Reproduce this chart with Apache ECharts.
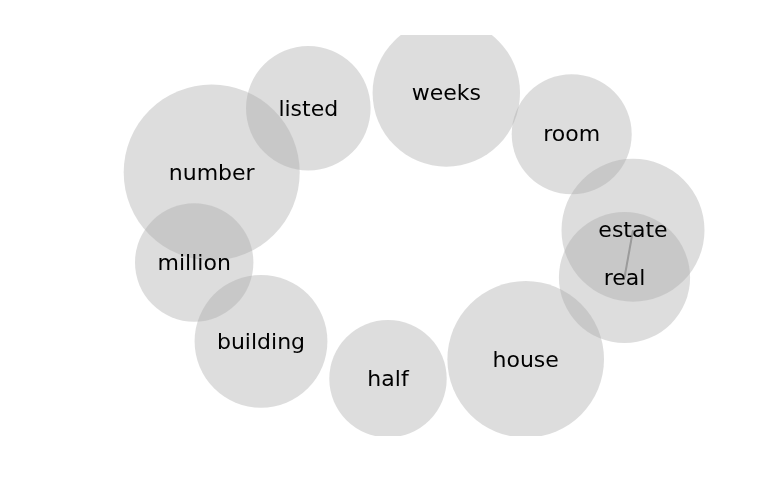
<!DOCTYPE html>
<html>
<head>
<meta charset="utf-8">
<script src="https://cdn.jsdelivr.net/npm/echarts@6/dist/echarts.min.js"></script>
<style>html,body{margin:0;padding:0;background:#fff;}#c{width:768px;height:500px;}</style>
</head>
<body>
<div id="c"></div>
<script>
// Node names, positions (chart units) and radii
const names = ['number','listed','weeks','room','estate','real','house','half','building','million'];
const xs    = [211.7, 308.3, 446.3, 571.7, 633.0, 624.5, 525.7, 388.0, 261.0, 194.2];
const ys    = [172.5, 108.3,  93.0, 134.2, 230.2, 277.5, 359.3, 378.7, 341.3, 262.5];
const radii = [ 88.0,  62.3,  73.7,  60.0,  71.5,  65.6,  78.3,  58.7,  66.4,  59.2];
const edges = [['estate','real']];

const nodeData = names.map((n, i) => [xs[i], ys[i], radii[i], n]);
const edgeData = edges.map(e => {
  const a = names.indexOf(e[0]), b = names.indexOf(e[1]);
  return [xs[a], ys[a], xs[b], ys[b]];
});

const chart = echarts.init(document.getElementById('c'));
chart.setOption({
  animation: false,
  backgroundColor: '#ffffff',
  grid: { left: 0, right: 0, top: 35, bottom: 64, containLabel: false },
  xAxis: { type: 'value', min: 0, max: 768, show: false },
  yAxis: { type: 'value', min: 35, max: 436, inverse: true, show: false },
  series: [
    {
      type: 'custom', clip: true, z: 1,
      data: edgeData,
      renderItem: function (params, api) {
        const p1 = api.coord([api.value(0), api.value(1)]);
        const p2 = api.coord([api.value(2), api.value(3)]);
        return { type: 'line', shape: { x1: p1[0], y1: p1[1], x2: p2[0], y2: p2[1] },
                 style: { stroke: 'rgb(128,128,128)', lineWidth: 2 } };
      }
    },
    {
      type: 'custom', clip: true, z: 2,
      data: nodeData,
      renderItem: function (params, api) {
        const p = api.coord([api.value(0), api.value(1)]);
        const r = api.size([api.value(2), 0])[0];
        return { type: 'circle', shape: { cx: p[0], cy: p[1], r: r },
                 style: { fill: 'rgba(169,169,169,0.4)' } };
      }
    },
    {
      type: 'custom', clip: true, z: 3,
      data: nodeData,
      renderItem: function (params, api) {
        const p = api.coord([api.value(0), api.value(1)]);
        return { type: 'text', x: p[0], y: p[1] + 1.5,
                 style: { text: names[params.dataIndex], fill: '#000',
                          font: '22px "DejaVu Sans"', align: 'center', verticalAlign: 'middle' } };
      }
    }
  ]
});
</script>
</body>
</html>
